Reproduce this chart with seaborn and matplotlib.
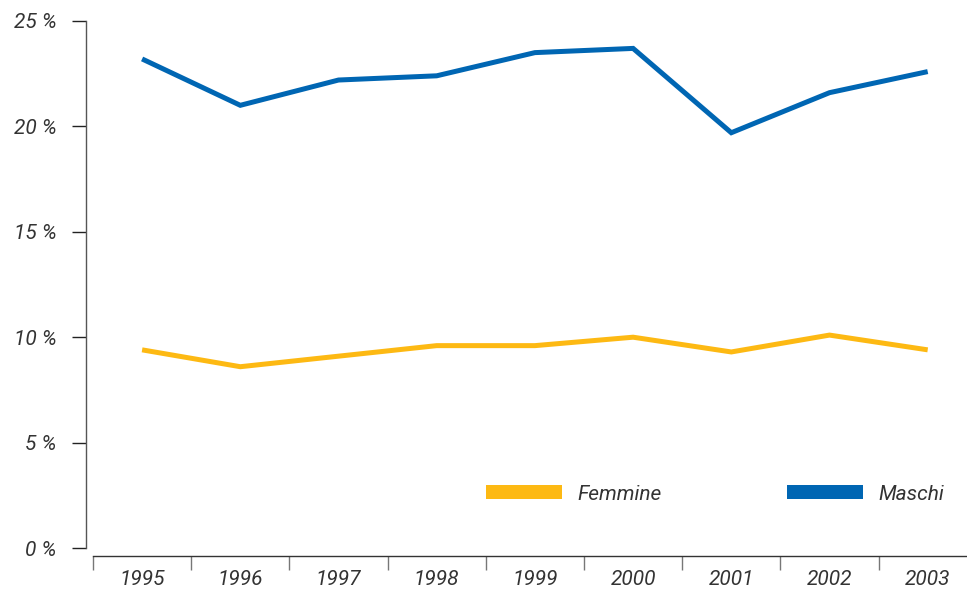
import matplotlib
matplotlib.use("Agg")
import matplotlib.pyplot as plt
from matplotlib.patches import Patch
from matplotlib.ticker import FixedLocator, FuncFormatter
import seaborn as sns
import pandas as pd

# -------------------- DATA --------------------
years = [1995, 1996, 1997, 1998, 1999, 2000, 2001, 2002, 2003]
femmine = [9.4, 8.6, 9.1, 9.6, 9.6, 10.0, 9.3, 10.1, 9.4]
maschi = [23.2, 21.0, 22.2, 22.4, 23.5, 23.7, 19.7, 21.6, 22.6]
series_names = ["Femmine", "Maschi"]
y_ticks = [0, 5, 10, 15, 20, 25]

colors = {"Femmine": "#FDB913", "Maschi": "#0066B3"}
text_color = "#333333"

df = pd.DataFrame({
    "anno": years * 2,
    "valore": femmine + maschi,
    "sesso": [series_names[0]] * len(years) + [series_names[1]] * len(years),
})

sns.set_style("white")
plt.rcParams["font.family"] = ["Roboto", "DejaVu Sans"]

W, H = 967, 594
fig = plt.figure(figsize=(W / 100, H / 100), dpi=100)
ax = fig.add_axes([86 / W, 1 - 548 / H, (W - 86) / W, (548 - 21) / H])

sns.lineplot(data=df, x="anno", y="valore", hue="sesso", palette=colors,
             linewidth=3.6, ax=ax, legend=False)
for line in ax.get_lines():
    line.set_solid_joinstyle("miter")
    line.set_solid_capstyle("butt")

# x: one year is 98.2 px, first boundary (1994.5) sits 7 px right of the y spine
px_per_year = 98.2
x_left = 1994.5 - 7 / px_per_year
x_right = x_left + (W - 86) / px_per_year
ax.set_xlim(x_left, x_right)
ax.set_ylim(0, 25)

for s in ["top", "right"]:
    ax.spines[s].set_visible(False)
ax.spines["left"].set_color("#555555")
ax.spines["left"].set_linewidth(1.0)
ax.spines["left"].set_bounds(0, 25)
ax.spines["bottom"].set_color("#333333")
ax.spines["bottom"].set_linewidth(1.0)
ax.spines["bottom"].set_position(("outward", 5.8))
ax.spines["bottom"].set_bounds(1994.5, x_right)

# y ticks
ax.yaxis.set_major_locator(FixedLocator(y_ticks))
ax.yaxis.set_major_formatter(FuncFormatter(lambda v, p: f"{int(v)} %"))
ax.tick_params(axis="y", left=True, direction="out", length=10, width=1.0,
               color="#222222", pad=11, labelsize=15, labelcolor=text_color)

# x ticks: boundaries as major ticks, labels on minor ticks at the years
boundaries = [y - 0.5 for y in years] + [years[-1] + 0.5]
ax.xaxis.set_major_locator(FixedLocator(boundaries))
ax.xaxis.set_major_formatter(FuncFormatter(lambda v, p: ""))
ax.xaxis.set_minor_locator(FixedLocator(years))
ax.xaxis.set_minor_formatter(FuncFormatter(lambda v, p: str(int(v))))
ax.tick_params(axis="x", which="major", bottom=True, direction="out",
               length=10, width=1.0, color="#777777")
ax.tick_params(axis="x", which="minor", bottom=True, length=0, pad=10,
               labelsize=15, labelcolor=text_color)

for lab in ax.get_xticklabels(minor=True) + ax.get_yticklabels():
    lab.set_fontstyle("italic")

ax.set_xlabel("")
ax.set_ylabel("")
ax.grid(False)

# -------------------- LEGEND --------------------
handles = [Patch(facecolor=colors[n], edgecolor="none") for n in series_names]
fs_px = 15 * 100 / 72
leg = ax.legend(handles, series_names, ncol=2, frameon=False,
                loc="center left", bbox_to_anchor=(486 / W, 1 - 494 / H),
                bbox_transform=fig.transFigure, borderpad=0, borderaxespad=0,
                handlelength=76 / fs_px, handleheight=14 / fs_px,
                handletextpad=15 / fs_px, columnspacing=126 / fs_px,
                prop={"size": 15, "style": "italic"})
for t in leg.get_texts():
    t.set_color(text_color)

fig.savefig("out.png", dpi=100)
